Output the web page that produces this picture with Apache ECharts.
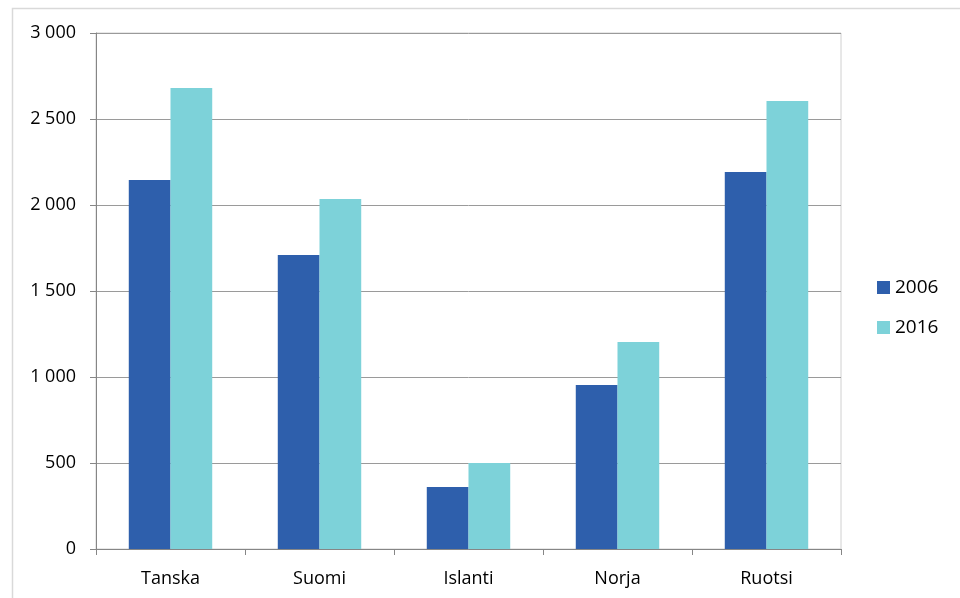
<!DOCTYPE html>
<html>
<head>
<meta charset="utf-8">
<script src="https://cdn.jsdelivr.net/npm/echarts@6/dist/echarts.min.js"></script>
<style>
  html, body { margin: 0; padding: 0; background: #fff; }
  #chart { width: 960px; height: 598px; }
</style>
</head>
<body>
<div id="chart"></div>
<script>
//maat
var categories = ['Tanska', 'Suomi', 'Islanti', 'Norja', 'Ruotsi'];
//vuosien arvot
var values2006 = [2145, 1710, 360, 953, 2192];
var values2016 = [2680, 2035, 500, 1203, 2605];
var seriesNames = ['2006', '2016'];
//y-akselin asetukset
var yMin = 0;
var yMax = 3000;
var yStep = 500;

//tuhaterotin välilyönnillä
function formatNumber(v) {
    return String(v).replace(/\B(?=(\d{3})+(?!\d))/g, ' ');
}

var myChart = echarts.init(document.getElementById('chart'));

var option = {
    animation: false,
    textStyle: { fontFamily: 'Open Sans, Noto Sans, sans-serif' },
    graphic: [{
        type: 'rect',
        shape: { x: 12.5, y: 8.5, width: 960, height: 600 },
        style: { fill: 'none', stroke: '#d9d9d9', lineWidth: 1.5 },
        silent: true
    }],
    grid: {
        left: 96,
        top: 33,
        right: 119,
        bottom: 49,
        show: true,
        borderColor: '#d0d0d0',
        borderWidth: 1
    },
    legend: {
        orient: 'vertical',
        left: 877,
        top: 278,
        padding: 0,
        itemWidth: 13,
        itemHeight: 13,
        itemGap: 21,
        icon: 'rect',
        textStyle: { fontSize: 19, color: '#000' },
        data: seriesNames
    },
    xAxis: {
        type: 'category',
        data: categories,
        axisLine: { lineStyle: { color: '#868686', width: 1 } },
        axisTick: { show: true, length: 6, interval: 0, lineStyle: { color: '#868686' } },
        axisLabel: { color: '#000', fontSize: 18, margin: 21 }
    },
    yAxis: {
        type: 'value',
        min: yMin,
        max: yMax,
        interval: yStep,
        axisLine: { show: true, lineStyle: { color: '#868686', width: 1 } },
        axisTick: { show: true, length: 6, lineStyle: { color: '#868686' } },
        axisLabel: { color: '#000', fontSize: 18, margin: 20, formatter: formatNumber },
        splitLine: { lineStyle: { color: '#9a9a9a', width: 1 } }
    },
    series: [{
        name: seriesNames[0],
        type: 'bar',
        data: values2006,
        barGap: '0%',
        barCategoryGap: '44%',
        itemStyle: { color: '#2e5fac' }
    }, {
        name: seriesNames[1],
        type: 'bar',
        data: values2016,
        barGap: '0%',
        barCategoryGap: '44%',
        itemStyle: { color: '#7dd2d9' }
    }]
};

myChart.setOption(option);
</script>
</body>
</html>
